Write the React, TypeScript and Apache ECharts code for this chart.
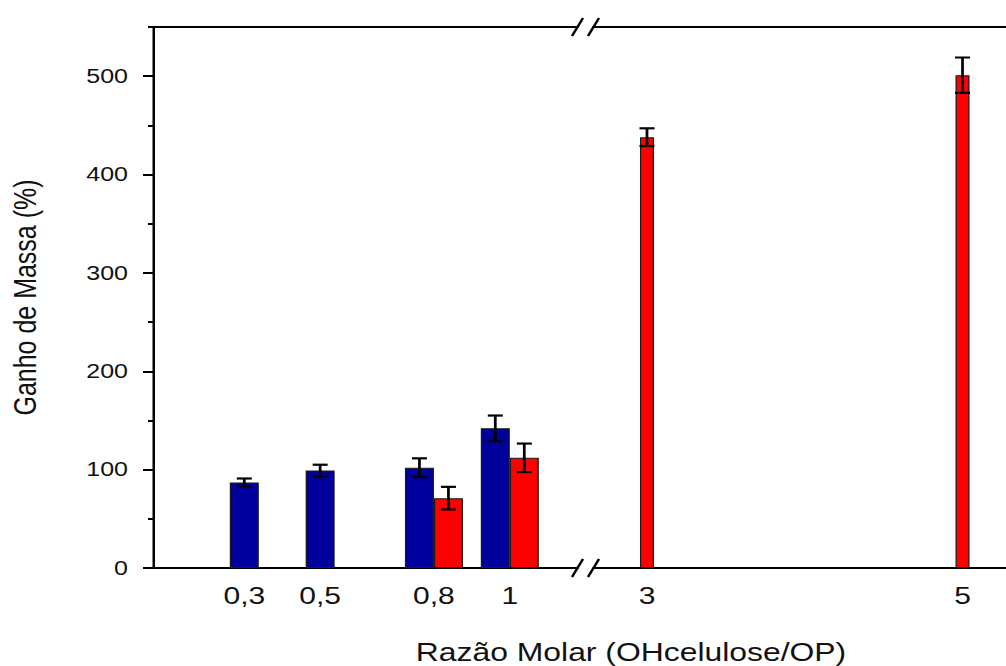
import React, { useEffect, useRef } from 'react';
import * as echarts from 'echarts';

// ---- data ----
const ratiosLeft = [0.3, 0.5, 0.8, 1];
const blueValues = [87, 99, 102, 142];
const blueErrors = [4, 6, 9.5, 13];
const redRatiosLeft = [0.8, 1];
const redValuesLeft = [71, 112];
const redErrorsLeft = [11.5, 14.5];
const ratiosRight = [3, 5];
const redValuesRight = [438, 501];
const redErrorsRight = [9, 18];
const yTickValues = [0, 100, 200, 300, 400, 500];

const X_TITLE = 'Razão Molar (OHcelulose/OP)';
const Y_TITLE = 'Ganho de Massa (%)';

// ---- layout ----
const STRETCH = 1.25;
const W = 805;
const H = 666;
const TOP = 27;
const PLOT_H = 541;
const LEFT_X = 122.4;
const LEFT_W = 339.6;
const RIGHT_X = 474.8;
const RIGHT_W = 345.7;
const BAR_W = 23.2;
const BAR_W_R = 11.2;
const CAP = 6;
const BLUE = '#00009c';
const RED = '#ff0000';
const FONT = 'Liberation Sans, Arial, Helvetica, sans-serif';

const fmt = (v: number) => String(v).replace('.', ',');

const blueSingle: number[][] = [];
const bluePair: number[][] = [];
const blueSingleErr: number[][] = [];
const bluePairErr: number[][] = [];
ratiosLeft.forEach((x, i) => {
  const pt = [x, blueValues[i]];
  const er = [x, blueValues[i] - blueErrors[i], blueValues[i] + blueErrors[i]];
  if (redRatiosLeft.includes(x)) {
    bluePair.push(pt);
    bluePairErr.push(er);
  } else {
    blueSingle.push(pt);
    blueSingleErr.push(er);
  }
});
const redLeft = redRatiosLeft.map((x, i) => [x, redValuesLeft[i]]);
const redLeftErr = redRatiosLeft.map((x, i) => [x, redValuesLeft[i] - redErrorsLeft[i], redValuesLeft[i] + redErrorsLeft[i]]);
const redRight = ratiosRight.map((x, i) => [x, redValuesRight[i]]);
const redRightErr = ratiosRight.map((x, i) => [x, redValuesRight[i] - redErrorsRight[i], redValuesRight[i] + redErrorsRight[i]]);

const errSeries = (data: number[][], xAxisIndex: number, yAxisIndex: number, offset: number) => ({
  type: 'custom',
  xAxisIndex,
  yAxisIndex,
  z: 10,
  data,
  encode: { x: 0, y: [1, 2] },
  renderItem: (_p: any, api: any) => {
    const lo = api.coord([api.value(0), api.value(1)]);
    const hi = api.coord([api.value(0), api.value(2)]);
    const cx = lo[0] + offset;
    const style = { stroke: '#000', lineWidth: 2.2, fill: 'none' };
    return {
      type: 'group',
      children: [
        { type: 'line', shape: { x1: cx, y1: hi[1], x2: cx, y2: lo[1] }, style },
        { type: 'line', shape: { x1: cx - CAP, y1: hi[1], x2: cx + CAP, y2: hi[1] }, style },
        { type: 'line', shape: { x1: cx - CAP, y1: lo[1], x2: cx + CAP, y2: lo[1] }, style },
      ],
    };
  },
});

const axisLineStyle = { color: '#000', width: 2 };
const barItem = (color: string) => ({ color, borderColor: '#1a1a1a', borderWidth: 1 });

const slash = (cx: number, cy: number) => ({
  type: 'line',
  shape: { x1: cx - 4.4, y1: cy + 9, x2: cx + 4.4, y2: cy - 9 },
  style: { stroke: '#000', lineWidth: 2 },
  z: 100,
});

const leftMin = 0.0593;
const leftMax = 1.1785;
const rightMin = 2.661;
const rightMax = 5.4;

const option: any = {
  animation: false,
  backgroundColor: '#fff',
  grid: [
    { left: LEFT_X, top: TOP, width: LEFT_W, height: PLOT_H, outerBoundsMode: 'none', containLabel: false },
    { left: RIGHT_X, top: TOP, width: RIGHT_W, height: PLOT_H, outerBoundsMode: 'none', containLabel: false },
  ],
  xAxis: [
    {
      gridIndex: 0, type: 'value', position: 'bottom', min: leftMin, max: leftMax,
      axisLine: { show: true, onZero: false, lineStyle: axisLineStyle },
      axisTick: { show: false },
      splitLine: { show: false },
      axisLabel: { customValues: ratiosLeft, formatter: fmt, fontSize: 24, margin: 16, color: '#111', fontFamily: FONT },
    },
    {
      gridIndex: 0, type: 'value', position: 'top', min: leftMin, max: leftMax,
      axisLine: { show: true, onZero: false, lineStyle: axisLineStyle },
      axisTick: { show: false }, axisLabel: { show: false }, splitLine: { show: false },
    },
    { gridIndex: 0, type: 'value', position: 'bottom', min: leftMin, max: leftMax, show: false },
    {
      gridIndex: 1, type: 'value', position: 'bottom', min: rightMin, max: rightMax,
      axisLine: { show: true, onZero: false, lineStyle: axisLineStyle },
      axisTick: { show: false },
      splitLine: { show: false },
      axisLabel: { customValues: ratiosRight, formatter: fmt, fontSize: 24, margin: 16, color: '#111', fontFamily: FONT },
    },
    {
      gridIndex: 1, type: 'value', position: 'top', min: rightMin, max: rightMax,
      axisLine: { show: true, onZero: false, lineStyle: axisLineStyle },
      axisTick: { show: false }, axisLabel: { show: false }, splitLine: { show: false },
    },
  ],
  yAxis: [
    {
      gridIndex: 0, type: 'value', position: 'left', min: 0, max: 550, interval: 50,
      axisLine: { show: true, onZero: false, lineStyle: axisLineStyle },
      axisTick: { show: true, inside: false, length: 4, lineStyle: { color: '#000', width: 2 } },
      axisLabel: { customValues: yTickValues, fontSize: 20, margin: 20, color: '#111', fontFamily: FONT },
      splitLine: { show: false },
      name: Y_TITLE, nameLocation: 'middle', nameRotate: 90, nameGap: 90,
      nameTextStyle: { fontSize: 25, color: '#111', fontFamily: FONT },
    },
    {
      gridIndex: 0, type: 'value', position: 'left', min: 0, max: 550,
      axisLine: { show: false },
      axisTick: { show: true, inside: false, customValues: yTickValues, length: 8, lineStyle: { color: '#000', width: 2 } },
      axisLabel: { show: false },
      splitLine: { show: false },
    },
    { gridIndex: 1, type: 'value', position: 'left', min: 0, max: 550, show: false },
  ],
  graphic: [
    {
      type: 'text', x: 504.8, y: 652, z: 100,
      style: { text: X_TITLE, fontSize: 25.5, fontFamily: FONT, fill: '#111', textAlign: 'center', textVerticalAlign: 'middle' },
    },
    slash(LEFT_X + LEFT_W, TOP),
    slash(RIGHT_X, TOP),
    slash(LEFT_X + LEFT_W, TOP + PLOT_H),
    slash(RIGHT_X, TOP + PLOT_H),
  ],
  series: [
    { type: 'bar', xAxisIndex: 2, yAxisIndex: 0, data: blueSingle, barWidth: BAR_W, itemStyle: barItem(BLUE) },
    { type: 'bar', xAxisIndex: 0, yAxisIndex: 0, data: bluePair, barWidth: BAR_W, barGap: '0%', itemStyle: barItem(BLUE) },
    { type: 'bar', xAxisIndex: 0, yAxisIndex: 0, data: redLeft, barWidth: BAR_W, barGap: '0%', itemStyle: barItem(RED) },
    { type: 'bar', xAxisIndex: 3, yAxisIndex: 2, data: redRight, barWidth: BAR_W_R, itemStyle: barItem(RED) },
    errSeries(blueSingleErr, 2, 0, 0),
    errSeries(bluePairErr, 0, 0, -BAR_W / 2),
    errSeries(redLeftErr, 0, 0, BAR_W / 2),
    errSeries(redRightErr, 3, 2, 0),
  ],
};

export default function App() {
  const ref = useRef<HTMLDivElement>(null);
  useEffect(() => {
    const chart = echarts.init(ref.current!, undefined, { renderer: 'svg' });
    chart.setOption(option);
    return () => chart.dispose();
  }, []);
  return (
    <div
      ref={ref}
      style={{
        position: 'absolute',
        left: 0,
        top: 0,
        width: W,
        height: H,
        transform: `scaleX(${STRETCH})`,
        transformOrigin: '0 0',
        background: '#fff',
      }}
    />
  );
}
